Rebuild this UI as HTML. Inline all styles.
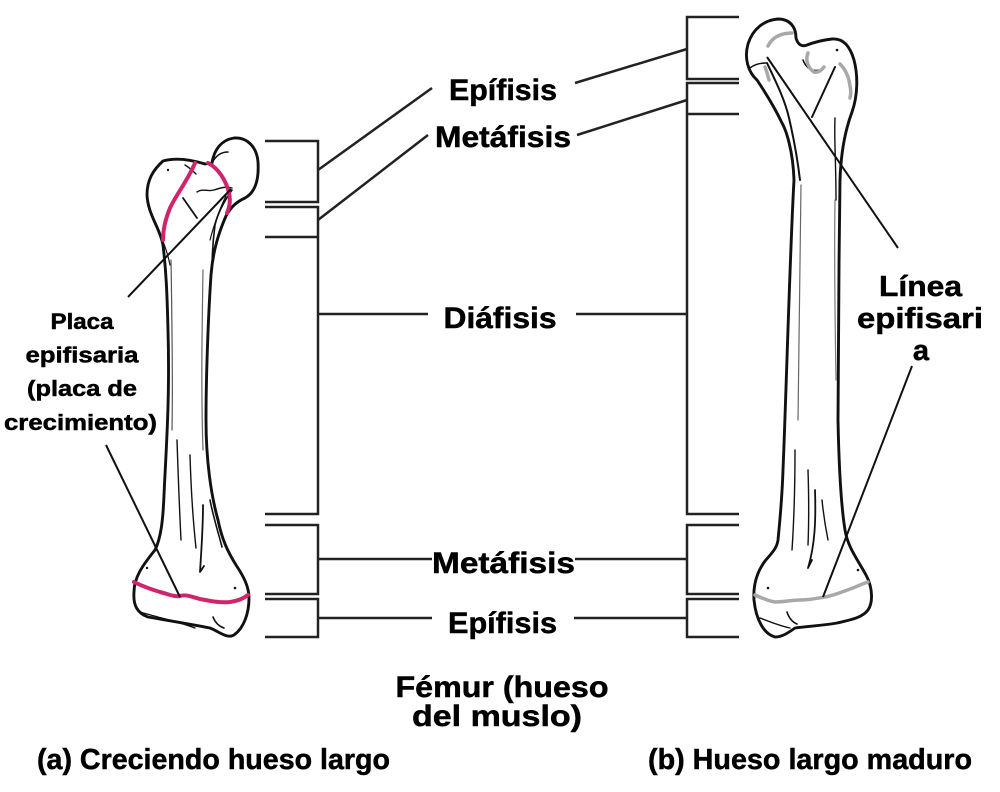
<!DOCTYPE html>
<html>
<head>
<meta charset="utf-8">
<style>
html,body{margin:0;padding:0;background:#fff;}
svg{display:block;}
text{font-family:"Liberation Sans",Arial,sans-serif;font-weight:bold;fill:#000;stroke:#000;stroke-width:0.5;}
</style>
</head>
<body>
<svg width="1000" height="792" viewBox="0 0 1000 792" xmlns="http://www.w3.org/2000/svg">
<rect width="1000" height="792" fill="#fff"/>

<!-- ===== Brackets left ===== -->
<g fill="none" stroke="#222" stroke-width="2.5" stroke-linejoin="miter">
  <path d="M265,141 H318 V202 H265"/>
  <path d="M265,207 H318 V514 H265"/>
  <path d="M265,237 H318"/>
  <path d="M265,525 H318 V594 H265"/>
  <path d="M265,599 H318 V637 H265"/>
  <path d="M318,170 L432,88"/>
  <path d="M318,220 L428,135"/>
  <path d="M318,314 H428"/>
  <path d="M318,559 H432"/>
  <path d="M318,618 H432"/>
</g>
<!-- ===== Brackets right ===== -->
<g fill="none" stroke="#222" stroke-width="2.5">
  <path d="M739,17 H687 V79 H739"/>
  <path d="M739,83 H687 V514 H739"/>
  <path d="M739,114 H687"/>
  <path d="M739,525 H687 V594 H739"/>
  <path d="M739,599 H687 V637 H739"/>
  <path d="M687,49 L575,83"/>
  <path d="M687,100 L577,135"/>
  <path d="M576,314 H687"/>
  <path d="M575,559 H687"/>
  <path d="M574,618 H687"/>
</g>

<!-- ===== Left bone (growing) ===== -->
<g fill="none" stroke="#111" stroke-linecap="round" stroke-linejoin="round">
  <path stroke-width="2.9" d="M147,195 C147,180 153,170 163,161 C177,157 192,160 205,164 L212,163 C214,150 221,140 234,138 C248,137 257,148 258,162 C259,178 256,192 245,198 C236,202 230,208 226,216 C219,232 213,250 211,275 C208,320 206,380 206,420 C206,460 211,495 218,520 C222,540 228,552 236,565 C244,577 249,587 249,598 C249,613 244,628 234,635 C227,639 220,632 210,628 C190,624 165,620 148,617 C137,613 133,605 134,592 C134,578 142,566 155,550 C161,538 163,520 164,495 C166,450 170,400 168,330 C167,290 166,270 163,245 C160,228 148,215 147,195 Z"/>
  <path stroke-width="1.6" d="M212,163 C216,155 222,152 228,152"/>
  <path stroke-width="1.4" d="M185,165 C190,168 193,171 196,174"/>
  <path stroke-width="1.8" d="M183,198 L197,218"/>
  <path stroke-width="1.4" d="M197,192 C203,188 208,192 214,190 C220,188 226,186 232,188"/>
  <path stroke-width="1.6" d="M232,190 C225,200 218,212 215,225 C213,240 212,255 212,270"/>
  <path stroke-width="1.2" d="M226,196 C219,210 214,225 210,240"/>
  <path stroke-width="1.2" d="M160,235 C165,245 168,255 170,265"/>
  <path stroke-width="1.2" stroke="#555" d="M171,260 C172,320 173,380 172,430"/>
  <path stroke-width="1.2" stroke="#666" d="M203,270 C202,330 201,390 203,450"/>
  <path stroke-width="1.4" d="M177,440 C178,470 179,500 181,540"/>
  <path stroke-width="1.4" d="M190,455 C191,490 193,520 196,548"/>
  <path stroke-width="1.8" d="M203,505 C203,530 201,555 200,572 L204,566"/>
  <path stroke-width="1.6" d="M210,500 C214,520 219,535 222,547"/>
  <path stroke-width="1.6" d="M213,617 C215,622 218,626 224,628"/>
  <path stroke-width="1.4" d="M140,612 C160,618 180,622 195,628"/>
  <circle cx="168" cy="170" r="1.2" fill="#111" stroke="none"/>
  <circle cx="235" cy="588" r="1.3" fill="#111" stroke="none"/>
  <circle cx="147" cy="568" r="1.2" fill="#111" stroke="none"/>
</g>
<g fill="none" stroke="#d0246c" stroke-width="4" stroke-linecap="round">
  <path d="M195,163 C188,180 176,195 170,208 C165,220 163,230 163,240"/>
  <path d="M208,163 C218,168 226,180 229,193 C231,202 229,208 227,213"/>
  <path d="M134,582 C142,586 150,589 160,592 C168,594 174,597 180,596 C186,594 192,597 200,599 C210,601 220,603 230,602 C238,601 244,598 248,595"/>
</g>
<g fill="none" stroke="#111" stroke-width="2">
  <path d="M128,297 L231,189"/>
  <path d="M106,445 L180,597"/>
</g>

<!-- ===== Right bone (mature) ===== -->
<g fill="none" stroke="#111" stroke-linecap="round" stroke-linejoin="round">
  <path stroke-width="2.9" d="M757,80 C748,72 744,58 748,44 C753,28 765,20 778,19 C790,19 796,27 796,38 C798,45 802,47 807,45 C815,42 822,40 832,39 C843,38 850,46 854,60 C858,75 858,95 852,112 C846,128 841,150 840,180 C839,260 838,350 838,420 C839,470 841,505 845,530 C848,548 858,560 866,575 C873,588 873,603 868,610 C862,618 850,620 837,623 C820,626 808,626 795,628 C788,633 782,637 775,637 C764,634 756,620 754,600 C753,585 757,572 765,561 C772,553 777,548 778,540 C780,520 782,500 783,470 C786,400 790,250 794,180 C793,150 786,130 782,123 C775,108 765,92 757,80 Z"/>
  <path stroke-width="1.6" d="M750,68 C755,64 760,63 766,63"/>
  <path stroke-width="2" d="M767,63 C776,82 785,100 789,118 C793,135 797,155 800,180"/>
  <path stroke-width="2" d="M835,67 L812,117"/>
  <path stroke-width="1.6" d="M803,60 C806,68 812,72 820,70"/>
  <path stroke-width="1.4" d="M835,118 C834,140 836,160 836,200"/>
  <circle cx="837" cy="50" r="1.3" fill="#111" stroke="none"/>
  <path stroke-width="1.2" stroke="#666" d="M801,185 C800,260 799,340 798,420"/>
  <path stroke-width="1.2" stroke="#777" d="M835,200 C834,260 835,320 836,380"/>
  <path stroke-width="1.4" d="M795,450 C795,490 794,520 792,550"/>
  <path stroke-width="1.4" d="M808,470 C809,500 809,520 808,545"/>
  <path stroke-width="1.8" d="M815,490 C816,520 815,545 808,568 L812,560"/>
  <path stroke-width="1.4" d="M822,500 C824,520 826,530 828,540"/>
  <path stroke-width="1.6" d="M787,612 C789,618 792,622 797,624"/>
  <path stroke-width="1.4" d="M760,618 C770,622 780,626 790,628"/>
  <circle cx="768" cy="588" r="1.3" fill="#111" stroke="none"/>
  <circle cx="858" cy="570" r="1.3" fill="#111" stroke="none"/>
</g>
<g fill="none" stroke="#a8a8a8" stroke-width="3.5" stroke-linecap="round">
  <path d="M768,46 C772,38 780,33 792,33"/>
  <path d="M808,53 C805,60 808,68 814,72 C818,73 821,71 824,67"/>
  <path d="M840,64 C846,70 849,78 850,86 C851,90 851,94 850,98"/>
  <path d="M765,67 C767,72 768,76 769,80"/>
  <path d="M755,595 C762,598 768,601 775,602 C785,602 792,600 800,600 C810,600 818,598 825,597 C835,595 842,592 850,589 C856,587 862,584 868,582"/>
</g>
<g fill="none" stroke="#111" stroke-width="2">
  <path d="M767,57 L898,248"/>
  <path d="M912,366 L823,597"/>
</g>

<!-- ===== Labels ===== -->
<g font-size="30" text-anchor="middle">
  <text x="503" y="100" textLength="108" lengthAdjust="spacingAndGlyphs">Epífisis</text>
  <text x="503" y="147" textLength="136" lengthAdjust="spacingAndGlyphs">Metáfisis</text>
  <text x="500" y="328" textLength="113" lengthAdjust="spacingAndGlyphs">Diáfisis</text>
  <text x="503.5" y="573" textLength="143" lengthAdjust="spacingAndGlyphs">Metáfisis</text>
  <text x="502.5" y="633" textLength="109" lengthAdjust="spacingAndGlyphs">Epífisis</text>
  <text x="502" y="697" textLength="213" lengthAdjust="spacingAndGlyphs">Fémur (hueso</text>
  <text x="497" y="726" textLength="170" lengthAdjust="spacingAndGlyphs">del muslo)</text>
</g>
<g font-size="28.5">
  <text x="37" y="769" textLength="353" lengthAdjust="spacingAndGlyphs">(a) Creciendo hueso largo</text>
  <text x="648" y="769" textLength="324" lengthAdjust="spacingAndGlyphs">(b) Hueso largo maduro</text>
</g>
<g font-size="22.5" text-anchor="middle">
  <text x="82" y="329" textLength="63" lengthAdjust="spacingAndGlyphs">Placa</text>
  <text x="82" y="362.5" textLength="113" lengthAdjust="spacingAndGlyphs">epifisaria</text>
  <text x="82" y="396" textLength="110" lengthAdjust="spacingAndGlyphs">(placa de</text>
  <text x="80.5" y="430" textLength="153" lengthAdjust="spacingAndGlyphs">crecimiento)</text>
</g>
<g font-size="29" text-anchor="middle">
  <text x="920.5" y="296" textLength="83" lengthAdjust="spacingAndGlyphs">Línea</text>
  <text x="920" y="328" textLength="126" lengthAdjust="spacingAndGlyphs">epifisari</text>
  <text x="921" y="360">a</text>
</g>
</svg>
</body>
</html>
